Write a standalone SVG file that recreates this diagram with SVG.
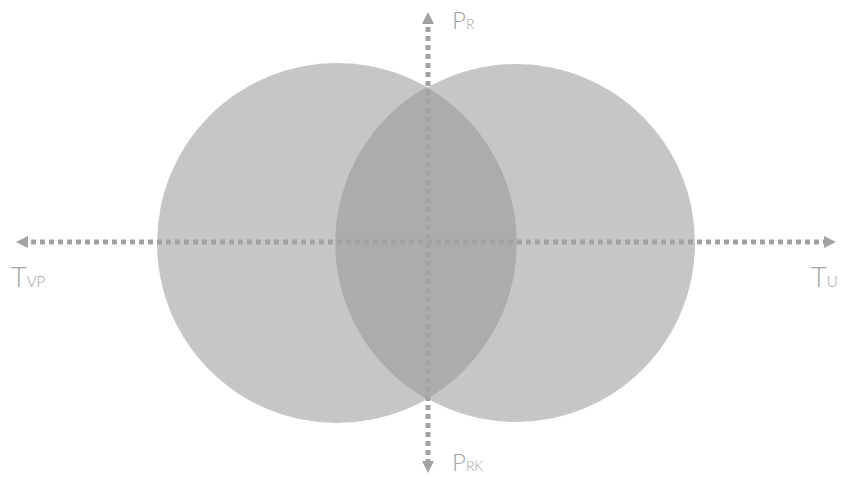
<svg xmlns="http://www.w3.org/2000/svg" width="841" height="477" viewBox="0 0 841 477">
<style>
.lbl{font-family:"Lato","Liberation Sans",sans-serif;font-weight:300;fill:#a3a3a3}
.big{font-size:24px}
.bigT{font-size:27px}
.sub{font-size:14px}
.subT{font-size:15px}
.ax{stroke:#a0a2a4;stroke-width:5;stroke-dasharray:5 4;fill:none}
</style>
<defs>
<marker id="ah" viewBox="0 0 10 10" refX="5" refY="5" markerWidth="12" markerHeight="12" markerUnits="userSpaceOnUse" orient="auto-start-reverse">
<path d="M0,0 L10,5 L0,10 Z" fill="#a0a2a4"/>
</marker>
</defs>
<rect width="841" height="477" fill="#ffffff"/>
<g id="circle-left"><circle cx="337" cy="243" r="180" fill="#c5c6c8"/></g>
<g id="circle-right"><circle cx="516" cy="243" r="179" fill="#c5c6c8"/></g>
<g id="overlap"><path d="M426.5,87 A180,180 0 0 1 426.5,399 A179,179 0 0 1 426.5,87 Z" fill="#abacae"/></g>
<g id="connectors">
<line class="ax" x1="22" y1="242" x2="830" y2="242" marker-start="url(#ah)" marker-end="url(#ah)"/>
<line class="ax" x1="428" y1="18" x2="428" y2="467" marker-start="url(#ah)" marker-end="url(#ah)"/>
</g>
<g id="label-pr"><text class="lbl big" x="452" y="29">P<tspan class="sub">R</tspan></text></g>
<g id="label-prk"><text class="lbl big" x="452" y="471">P<tspan class="sub">RK</tspan></text></g>
<g id="label-tvp"><text class="lbl bigT" x="11" y="287">T<tspan class="subT">VP</tspan></text></g>
<g id="label-tu"><text class="lbl bigT" x="811" y="287">T<tspan class="subT">U</tspan></text></g>
</svg>
